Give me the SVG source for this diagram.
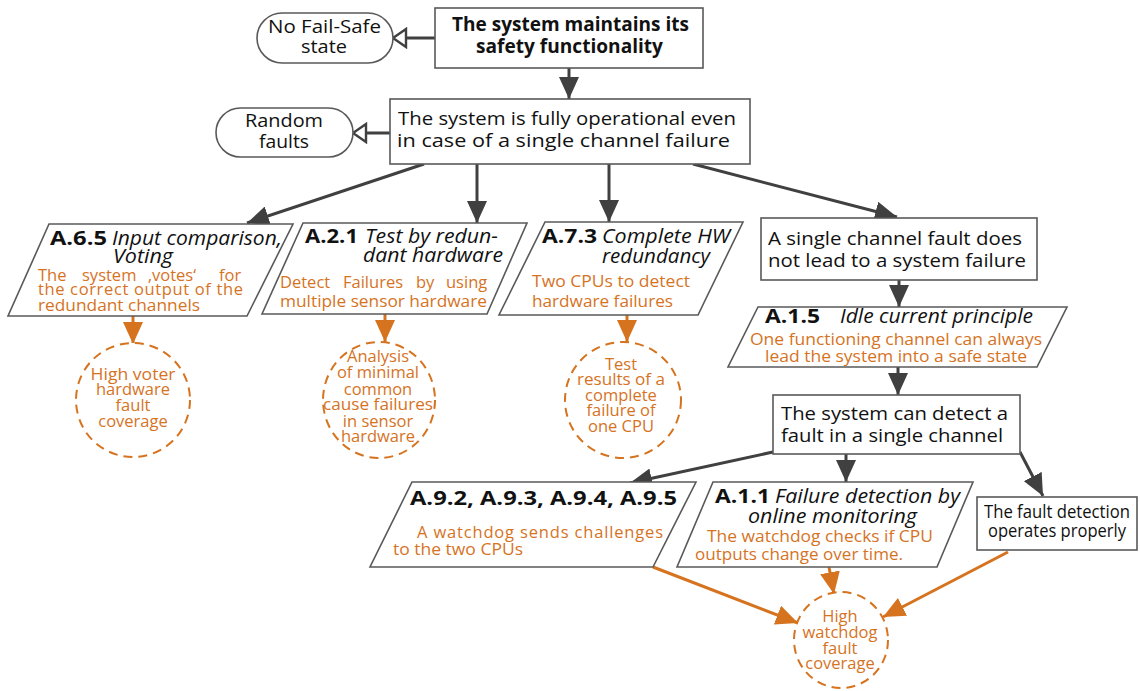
<svg xmlns="http://www.w3.org/2000/svg" width="1140" height="691" viewBox="0 0 1140 691">
  <defs>
    <style>
      text { font-family: "Open Sans", "Noto Sans", "Liberation Sans", sans-serif; }
      .box { fill: #fff; stroke: #595959; stroke-width: 1.6; }
      .t { font-size: 19px; fill: #111; }
      .tb { font-size: 19px; font-weight: bold; fill: #111; }
      .code { font-size: 19.5px; font-weight: bold; fill: #111; }
      .it { font-size: 19.5px; font-style: italic; fill: #111; }
      .o { font-size: 16.5px; fill: #D6731F; }
      .oc { font-size: 16.5px; fill: #D6731F; text-anchor: middle; }
      .circ { fill: #fff; stroke: #D6731F; stroke-width: 2; stroke-dasharray: 9 6; }
      .dk { stroke: #404040; stroke-width: 3; fill: none; }
      .or { stroke: #D6731F; stroke-width: 3; fill: none; }
    </style>
    <marker id="ah" markerUnits="userSpaceOnUse" markerWidth="22" markerHeight="20" refX="22" refY="10" orient="auto">
      <path d="M0,0 L22,10 L0,20 Z" fill="#404040"/>
    </marker>
    <marker id="aho" markerUnits="userSpaceOnUse" markerWidth="22" markerHeight="20" refX="22" refY="10" orient="auto">
      <path d="M0,0 L22,10 L0,20 Z" fill="#D6731F"/>
    </marker>
    <marker id="hollow" markerUnits="userSpaceOnUse" markerWidth="18" markerHeight="22" refX="15" refY="11" orient="auto">
      <path d="M2,2 L15,11 L2,20 Z" fill="#fff" stroke="#404040" stroke-width="2.4" stroke-linejoin="miter"/>
    </marker>
  </defs>

  <!-- connectors -->
  <g id="connectors">
    <line class="dk" x1="435" y1="38" x2="393" y2="38" marker-end="url(#hollow)"/>
    <line class="dk" x1="569" y1="68" x2="569" y2="99" marker-end="url(#ah)"/>
    <line class="dk" x1="390" y1="133" x2="353" y2="133" marker-end="url(#hollow)"/>
    <line class="dk" x1="424" y1="164" x2="247" y2="223" marker-end="url(#ah)"/>
    <line class="dk" x1="477" y1="164" x2="477" y2="223" marker-end="url(#ah)"/>
    <line class="dk" x1="609" y1="164" x2="609" y2="222" marker-end="url(#ah)"/>
    <line class="dk" x1="693" y1="164" x2="897" y2="217" marker-end="url(#ah)"/>
    <line class="dk" x1="899" y1="280" x2="899" y2="307" marker-end="url(#ah)"/>
    <line class="dk" x1="898" y1="367" x2="898" y2="395" marker-end="url(#ah)"/>
    <line class="dk" x1="773" y1="452" x2="630" y2="483" marker-end="url(#ah)"/>
    <line class="dk" x1="846" y1="454" x2="846" y2="482" marker-end="url(#ah)"/>
    <line class="dk" x1="1020" y1="452" x2="1043" y2="496" marker-end="url(#ah)"/>
    <line class="or" x1="133" y1="316" x2="133" y2="344" marker-end="url(#aho)"/>
    <line class="or" x1="385" y1="314" x2="385" y2="342" marker-end="url(#aho)"/>
    <line class="or" x1="627" y1="315" x2="627" y2="342" marker-end="url(#aho)"/>
    <line class="or" x1="653" y1="567" x2="798" y2="623" marker-end="url(#aho)"/>
    <line class="or" x1="829" y1="567" x2="834" y2="594" marker-end="url(#aho)"/>
    <line class="or" x1="1008" y1="552" x2="883" y2="617" marker-end="url(#aho)"/>
  </g>

  <!-- top goal -->
  <g id="goal-safety">
    <rect class="box" x="435" y="8" width="268" height="60"/>
    <text class="tb" x="452" y="31" textLength="237" lengthAdjust="spacingAndGlyphs">The system maintains its</text>
    <text class="tb" x="476" y="53" textLength="187" lengthAdjust="spacingAndGlyphs">safety functionality</text>
  </g>

  <g id="ctx-no-fail-safe">
    <rect class="box" x="257" y="13" width="136" height="50" rx="25"/>
    <text class="t" x="268" y="33" textLength="113" lengthAdjust="spacingAndGlyphs">No Fail-Safe</text>
    <text class="t" x="301" y="53" textLength="46" lengthAdjust="spacingAndGlyphs">state</text>
  </g>

  <g id="goal-operational">
    <rect class="box" x="390" y="99" width="360" height="65"/>
    <text class="t" x="398" y="125" textLength="338" lengthAdjust="spacingAndGlyphs">The system is fully operational even</text>
    <text class="t" x="397" y="147" textLength="333" lengthAdjust="spacingAndGlyphs">in case of a single channel failure</text>
  </g>

  <g id="ctx-random-faults">
    <rect class="box" x="216" y="108" width="137" height="49" rx="24.5"/>
    <text class="t" x="245" y="127" textLength="78" lengthAdjust="spacingAndGlyphs">Random</text>
    <text class="t" x="259" y="148" textLength="50" lengthAdjust="spacingAndGlyphs">faults</text>
  </g>

  <!-- A.6.5 -->
  <g id="sol-a65">
    <polygon class="box" points="49,224 293,224 247,316 8,316"/>
    <text class="code" x="50" y="245" textLength="57" lengthAdjust="spacingAndGlyphs">A.6.5</text>
    <text class="it" x="112" y="245" textLength="170" lengthAdjust="spacingAndGlyphs">Input comparison,</text>
    <text class="it" x="113" y="263" textLength="60" lengthAdjust="spacingAndGlyphs">Voting</text>
    <text class="o" y="281"><tspan x="38">The</tspan><tspan x="82">system</tspan><tspan x="148">‚votes‘</tspan><tspan x="219">for</tspan></text>
    <text class="o" x="38" y="295" textLength="205" lengthAdjust="spacing">the correct output of the</text>
    <text class="o" x="38" y="311" textLength="162" lengthAdjust="spacingAndGlyphs">redundant channels</text>
  </g>
  <g id="ev-voter">
    <ellipse class="circ" cx="133" cy="400" rx="57" ry="57"/>
    <text class="oc" x="133" y="380" textLength="85" lengthAdjust="spacingAndGlyphs">High voter</text>
    <text class="oc" x="133" y="395">hardware</text>
    <text class="oc" x="133" y="411">fault</text>
    <text class="oc" x="133" y="427">coverage</text>
  </g>

  <!-- A.2.1 -->
  <g id="sol-a21">
    <polygon class="box" points="303,223 527,223 487,314 262,314"/>
    <text class="code" x="305" y="243" textLength="53" lengthAdjust="spacingAndGlyphs">A.2.1</text>
    <text class="it" x="365" y="243" textLength="133" lengthAdjust="spacingAndGlyphs">Test by redun-</text>
    <text class="it" x="363" y="262" textLength="140" lengthAdjust="spacingAndGlyphs">dant hardware</text>
    <text class="o" y="288"><tspan x="280">Detect</tspan><tspan x="343">Failures</tspan><tspan x="416">by</tspan><tspan x="446">using</tspan></text>
    <text class="o" x="280" y="307" textLength="207" lengthAdjust="spacingAndGlyphs">multiple sensor hardware</text>
  </g>
  <g id="ev-ccf">
    <ellipse class="circ" cx="379" cy="400" rx="56" ry="58"/>
    <text class="oc" x="378" y="362">Analysis</text>
    <text class="oc" x="378" y="378">of minimal</text>
    <text class="oc" x="378" y="395">common</text>
    <text class="oc" x="378" y="410" textLength="110" lengthAdjust="spacingAndGlyphs">cause failures</text>
    <text class="oc" x="378" y="427">in sensor</text>
    <text class="oc" x="378" y="442">hardware</text>
  </g>

  <!-- A.7.3 -->
  <g id="sol-a73">
    <polygon class="box" points="545,222 743,222 698,315 499,315"/>
    <text class="code" x="542" y="243" textLength="55" lengthAdjust="spacingAndGlyphs">A.7.3</text>
    <text class="it" x="602" y="243" textLength="128" lengthAdjust="spacingAndGlyphs">Complete HW</text>
    <text class="it" x="602" y="263" textLength="108" lengthAdjust="spacingAndGlyphs">redundancy</text>
    <text class="o" x="532" y="287" textLength="158" lengthAdjust="spacingAndGlyphs">Two CPUs to detect</text>
    <text class="o" x="532" y="307" textLength="141" lengthAdjust="spacingAndGlyphs">hardware failures</text>
  </g>
  <g id="ev-cpu">
    <ellipse class="circ" cx="623" cy="400" rx="58" ry="58"/>
    <text class="oc" x="621" y="370">Test</text>
    <text class="oc" x="621" y="385" textLength="88" lengthAdjust="spacingAndGlyphs">results of a</text>
    <text class="oc" x="621" y="401">complete</text>
    <text class="oc" x="621" y="416">failure of</text>
    <text class="oc" x="621" y="432">one CPU</text>
  </g>

  <!-- right branch -->
  <g id="goal-single-fault">
    <rect class="box" x="761" y="218" width="276" height="62"/>
    <text class="t" x="768" y="245" textLength="254" lengthAdjust="spacingAndGlyphs">A single channel fault does</text>
    <text class="t" x="768" y="267" textLength="258" lengthAdjust="spacingAndGlyphs">not lead to a system failure</text>
  </g>

  <g id="sol-a15">
    <polygon class="box" points="758,307 1067,307 1037,367 728,367"/>
    <text class="code" x="765" y="323" font-size="20" textLength="55" lengthAdjust="spacingAndGlyphs">A.1.5</text>
    <text class="it" x="840" y="323" textLength="193" lengthAdjust="spacingAndGlyphs">Idle current principle</text>
    <text class="o" x="750" y="345" textLength="292" lengthAdjust="spacingAndGlyphs">One functioning channel can always</text>
    <text class="o" x="765" y="362" textLength="262" lengthAdjust="spacingAndGlyphs">lead the system into a safe state</text>
  </g>

  <g id="goal-detect">
    <rect class="box" x="773" y="395" width="247" height="59"/>
    <text class="t" x="781" y="420" textLength="227" lengthAdjust="spacingAndGlyphs">The system can detect a</text>
    <text class="t" x="781" y="442" textLength="222" lengthAdjust="spacingAndGlyphs">fault in a single channel</text>
  </g>

  <g id="sol-a9x">
    <polygon class="box" points="412,482 696,482 653,567 370,567"/>
    <text class="code" x="410" y="505" font-size="21" textLength="267" lengthAdjust="spacingAndGlyphs">A.9.2, A.9.3, A.9.4, A.9.5</text>
    <text class="o" x="417" y="538" textLength="246" lengthAdjust="spacing">A watchdog sends challenges</text>
    <text class="o" x="393" y="555" textLength="130" lengthAdjust="spacingAndGlyphs">to the two CPUs</text>
  </g>

  <g id="sol-a11">
    <polygon class="box" points="713,482 973,482 937,567 677,567"/>
    <text class="code" x="715" y="503" textLength="55" lengthAdjust="spacingAndGlyphs">A.1.1</text>
    <text class="it" x="775" y="503" textLength="185" lengthAdjust="spacingAndGlyphs">Failure detection by</text>
    <text class="it" x="748" y="523" textLength="169" lengthAdjust="spacingAndGlyphs">online monitoring</text>
    <text class="o" x="707" y="542" textLength="226" lengthAdjust="spacingAndGlyphs">The watchdog checks if CPU</text>
    <text class="o" x="695" y="560" textLength="208" lengthAdjust="spacingAndGlyphs">outputs change over time.</text>
  </g>

  <g id="goal-detection-ok">
    <rect class="box" x="977" y="497" width="160" height="53"/>
    <text class="t" x="1057" y="518" font-size="16" text-anchor="middle" textLength="146" lengthAdjust="spacingAndGlyphs">The fault detection</text>
    <text class="t" x="1057" y="537" font-size="16" text-anchor="middle" textLength="138" lengthAdjust="spacingAndGlyphs">operates properly</text>
  </g>

  <g id="ev-watchdog">
    <ellipse class="circ" cx="841" cy="640" rx="47" ry="48"/>
    <text class="oc" x="840" y="622">High</text>
    <text class="oc" x="840" y="638">watchdog</text>
    <text class="oc" x="840" y="654">fault</text>
    <text class="oc" x="840" y="669">coverage</text>
  </g>
</svg>
